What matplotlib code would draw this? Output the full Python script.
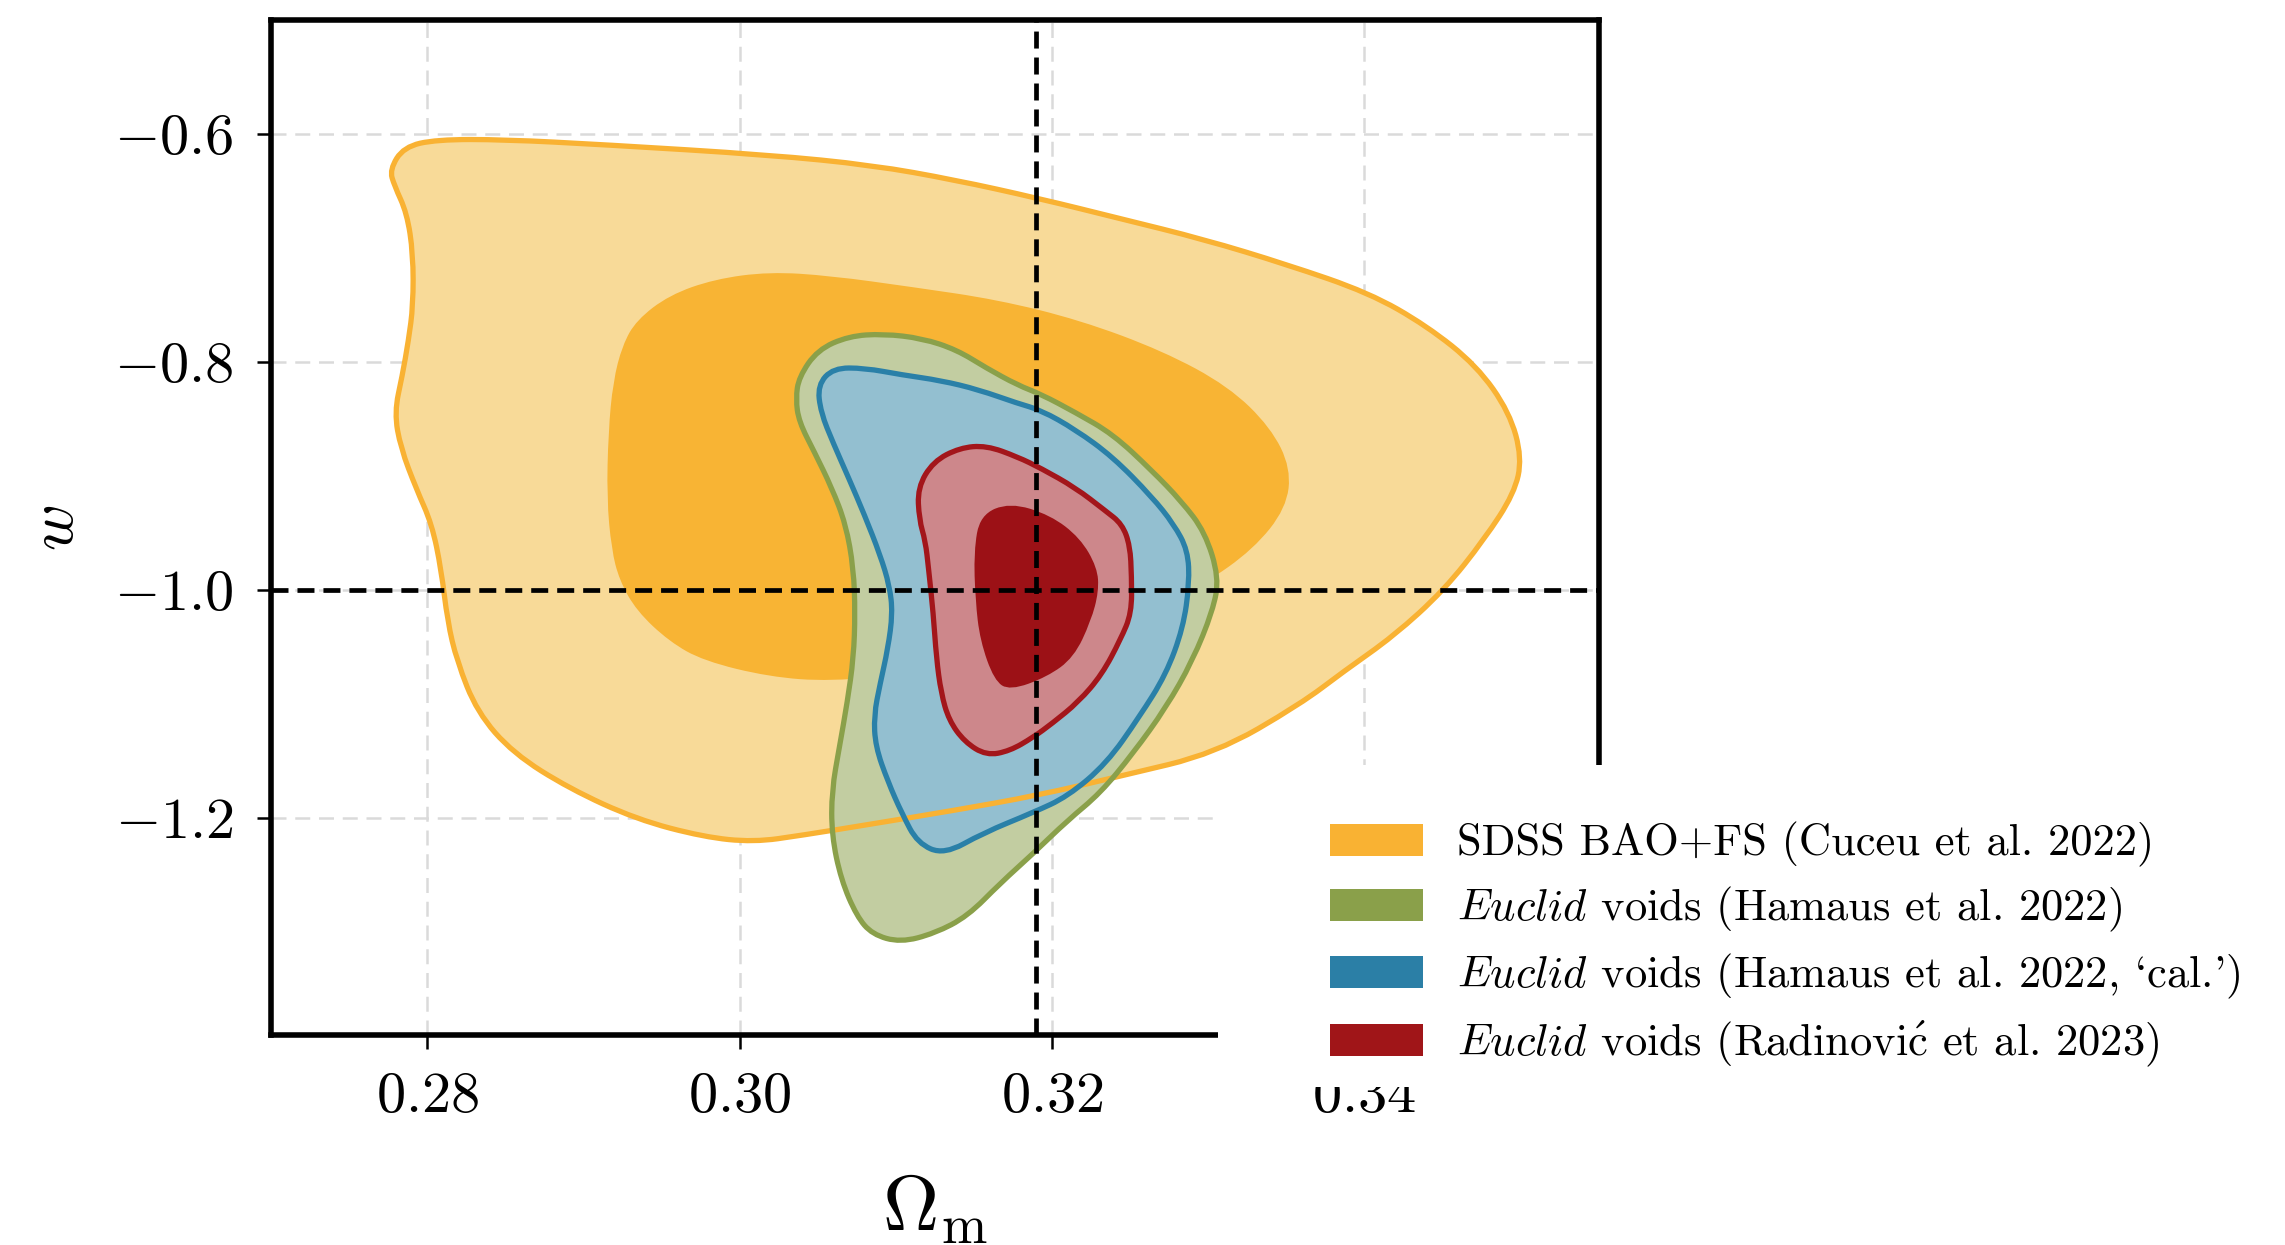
import numpy as np
import matplotlib
matplotlib.use("Agg")
import matplotlib.pyplot as plt
from matplotlib.path import Path
from matplotlib.patches import PathPatch, Patch, Rectangle

plt.rcParams["font.family"] = "serif"
plt.rcParams["font.serif"] = ["cmr10"]
plt.rcParams["mathtext.fontset"] = "cm"
plt.rcParams["axes.formatter.use_mathtext"] = True

# contour outlines (Omega_m, w) for each probe
sdss_95_om = [0.2785, 0.2806, 0.2849, 0.2913, 0.3019, 0.3085, 0.3138, 0.3191, 0.3244, 0.3297,
              0.3350, 0.3403, 0.3440, 0.3472, 0.3493, 0.3501, 0.3496, 0.3477, 0.3451, 0.3419,
              0.3387, 0.3359, 0.3305, 0.3244, 0.3191, 0.3138, 0.3085, 0.3040, 0.3009, 0.2977,
              0.2934, 0.2891, 0.2855, 0.2832, 0.2819, 0.2813, 0.2809, 0.2803, 0.2793, 0.2783,
              0.2779, 0.2784, 0.2788, 0.2791, 0.2791, 0.2787, 0.2779, 0.2776]
sdss_95_w = [-0.611, -0.6045, -0.6045, -0.609, -0.618, -0.627, -0.640, -0.656, -0.674, -0.692,
             -0.714, -0.739, -0.768, -0.803, -0.844, -0.884, -0.915, -0.955, -1.000, -1.040,
             -1.071, -1.100, -1.143, -1.163, -1.180, -1.193, -1.205, -1.215, -1.221, -1.2165,
             -1.201, -1.174, -1.143, -1.107, -1.062, -1.027, -0.982, -0.942, -0.911, -0.875,
             -0.844, -0.812, -0.781, -0.750, -0.705, -0.669, -0.645, -0.631]

sdss_68_om = [0.2925, 0.2934, 0.2955, 0.2984, 0.3019, 0.3058, 0.3111, 0.3165, 0.3218, 0.3271,
              0.3313, 0.3340, 0.3353, 0.3350, 0.3329, 0.3297, 0.3260, 0.3218, 0.3165, 0.3111,
              0.3058, 0.3019, 0.2977, 0.2955, 0.2934, 0.2923, 0.2918, 0.2915, 0.2916, 0.2919]
sdss_68_w = [-0.785, -0.763, -0.741, -0.727, -0.7206, -0.724, -0.734, -0.745, -0.763, -0.790,
             -0.821, -0.857, -0.893, -0.928, -0.964, -0.995, -1.022, -1.045, -1.062, -1.073,
             -1.080, -1.076, -1.062, -1.045, -1.018, -0.991, -0.964, -0.919, -0.861, -0.817]

hamaus_om = [0.3036, 0.3038, 0.3050, 0.3070, 0.3092, 0.3117, 0.3139, 0.3158, 0.3178, 0.3193,
             0.3215, 0.3239, 0.3264, 0.3283, 0.3298, 0.3307, 0.3303, 0.3290, 0.3273, 0.3252,
             0.3231, 0.3210, 0.3188, 0.3167, 0.3146, 0.3125, 0.3103, 0.3085, 0.3075, 0.3065,
             0.3059, 0.3059, 0.3064, 0.3069, 0.3073, 0.3074, 0.3073, 0.3068, 0.3059, 0.3048,
             0.3038]
hamaus_w = [-0.832, -0.813, -0.789, -0.777, -0.775, -0.779, -0.789, -0.805, -0.820, -0.828,
            -0.844, -0.863, -0.895, -0.922, -0.949, -0.989, -1.018, -1.062, -1.103, -1.143,
            -1.178, -1.202, -1.231, -1.257, -1.286, -1.301, -1.309, -1.302, -1.286, -1.254,
            -1.215, -1.176, -1.137, -1.098, -1.059, -1.020, -0.981, -0.942, -0.910, -0.879,
            -0.852]

hamaus_cal_om = [0.3052, 0.3050, 0.3060, 0.3080, 0.3104, 0.3129, 0.3153, 0.3178, 0.3193, 0.3215,
                 0.3239, 0.3264, 0.3278, 0.3287, 0.3288, 0.3284, 0.3273, 0.3256, 0.3235, 0.3210,
                 0.3188, 0.3156, 0.3131, 0.3114, 0.3104, 0.3095, 0.3087, 0.3086, 0.3090, 0.3095,
                 0.3098, 0.3096, 0.3090, 0.3080, 0.3070, 0.3060]
hamaus_cal_w = [-0.844, -0.820, -0.805, -0.805, -0.811, -0.816, -0.824, -0.836, -0.842, -0.859,
                -0.883, -0.918, -0.942, -0.965, -0.994, -1.033, -1.074, -1.111, -1.152, -1.181,
                -1.195, -1.213, -1.232, -1.222, -1.196, -1.168, -1.137, -1.110, -1.082, -1.051,
                -1.020, -0.996, -0.969, -0.934, -0.902, -0.871]

radinovic_95_om = [0.3115, 0.3114, 0.3124, 0.3141, 0.3158, 0.3178, 0.3193, 0.3215, 0.3234, 0.3245,
                   0.3250, 0.3251, 0.3251, 0.3244, 0.3232, 0.3217, 0.3200, 0.3188, 0.3173, 0.3158,
                   0.3144, 0.3134, 0.3129, 0.3126, 0.3124, 0.3121, 0.3119]
radinovic_95_w = [-0.938, -0.910, -0.887, -0.875, -0.873, -0.883, -0.893, -0.910, -0.930, -0.942,
                  -0.961, -0.988, -1.020, -1.043, -1.074, -1.098, -1.117, -1.129, -1.141, -1.145,
                  -1.133, -1.114, -1.090, -1.059, -1.020, -0.981, -0.957]

radinovic_68_om = [0.3154, 0.3173, 0.3199, 0.3218, 0.3229, 0.3230, 0.3225, 0.3214, 0.3197, 0.3173,
                   0.3163, 0.3154, 0.3151, 0.3150]
radinovic_68_w = [-0.934, -0.923, -0.934, -0.954, -0.980, -1.001, -1.027, -1.059, -1.076, -1.088,
                  -1.079, -1.044, -1.009, -0.966]

# fiducial cosmology
om_fid = 0.319
w_fid = -1.0

labels = [
    "SDSS BAO+FS (Cuceu et al. 2022)",
    r"$\mathit{Euclid}$ voids (Hamaus et al. 2022)",
    r"$\mathit{Euclid}$ voids (Hamaus et al. 2022, `cal.')",
    r"$\mathit{Euclid}$ voids (Radinovi$\acute{\rm c}$ et al. 2023)",
]
legend_colors = ["#f9b233", "#8aa04a", "#2b7fa6", "#a01518"]


def smooth_path(xs, ys):
    # closed quadratic-bezier path through the midpoints of the outline
    pts = np.column_stack([xs, ys])
    mids = (pts + np.roll(pts, -1, axis=0)) / 2
    verts = [mids[-1]]
    codes = [Path.MOVETO]
    for p, m in zip(pts, mids):
        verts += [p, m]
        codes += [Path.CURVE3, Path.CURVE3]
    verts.append(mids[-1])
    codes.append(Path.CLOSEPOLY)
    return Path(verts, codes)


fig = plt.figure(figsize=(22.85, 12.45), dpi=100)
ax = fig.add_axes([0.1186, 0.1689, 0.5810, 0.8147])

# fills first, outer edges on top
fills = [
    (sdss_95_om, sdss_95_w, "#f8da98"),
    (sdss_68_om, sdss_68_w, "#f8b434"),
    (hamaus_om, hamaus_w, "#c2cda1"),
    (hamaus_cal_om, hamaus_cal_w, "#93bfd0"),
    (radinovic_95_om, radinovic_95_w, "#cd878b"),
    (radinovic_68_om, radinovic_68_w, "#9c1116"),
]
for xs, ys, c in fills:
    ax.add_patch(PathPatch(smooth_path(xs, ys), facecolor=c, edgecolor="none", zorder=2))

edges = [
    (sdss_95_om, sdss_95_w, "#f9b233"),
    (hamaus_om, hamaus_w, "#8aa04a"),
    (hamaus_cal_om, hamaus_cal_w, "#2a80a8"),
    (radinovic_95_om, radinovic_95_w, "#a3161b"),
]
for xs, ys, c in edges:
    ax.add_patch(PathPatch(smooth_path(xs, ys), facecolor="none", edgecolor=c, lw=3.8, zorder=3))

ax.axvline(om_fid, color="black", lw=3.4, ls=(0, (3.6, 1.9)), zorder=4)
ax.axhline(w_fid, color="black", lw=3.4, ls=(0, (3.6, 1.9)), zorder=4)

ax.set_xlim(0.27, 0.355)
ax.set_ylim(-1.39, -0.5)
ax.set_xticks([0.28, 0.30, 0.32, 0.34])
ax.set_yticks([-1.2, -1.0, -0.8, -0.6])
ax.set_axisbelow(True)
ax.grid(True, color="#dadada", lw=1.8, ls=(0, (6, 3.5)))
ax.tick_params(direction="out", length=10, width=1.8, pad=17, labelsize=42)
for s in ax.spines.values():
    s.set_linewidth(4)

ax.set_xlabel(r"$\Omega_{\rm m}$", fontsize=56)
ax.set_ylabel(r"$w$", fontsize=46)
ax.xaxis.set_label_coords(0.5, -0.136)
ax.yaxis.set_label_coords(-0.139, 0.5)

# white box behind the legend
fig.add_artist(Rectangle((0.533, 0.127), 0.467, 0.2585, transform=fig.transFigure,
                         facecolor="white", edgecolor="none", zorder=3))

handles = [Patch(facecolor=c, edgecolor="none") for c in legend_colors]
fig.legend(handles, labels, loc="upper left", bbox_to_anchor=(0.582, 0.340),
           frameon=False, fontsize=32, handlelength=2.1, handleheight=0.75,
           handletextpad=0.75, labelspacing=0.40, borderpad=0, borderaxespad=0)

fig.savefig("out.png", dpi=100)
